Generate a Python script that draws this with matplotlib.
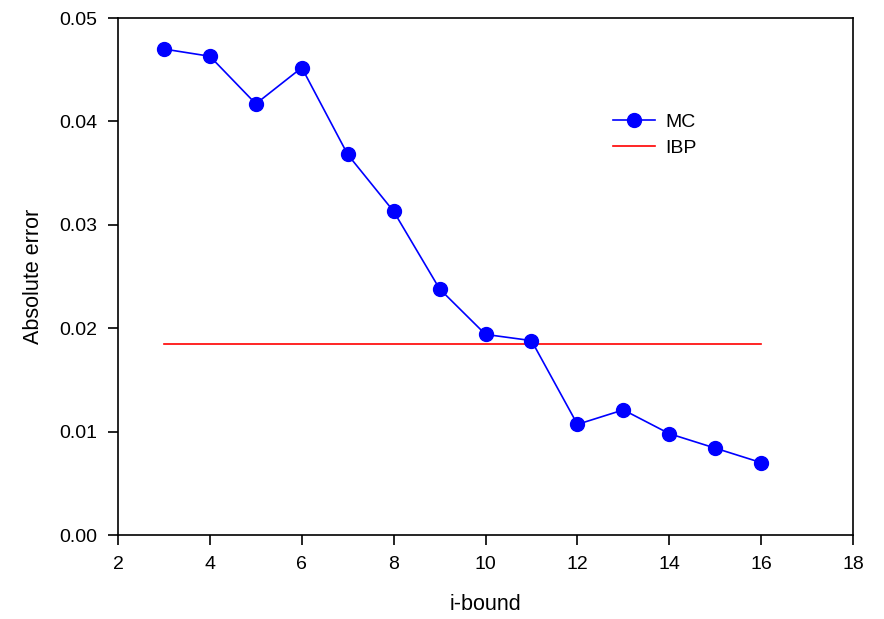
import matplotlib
matplotlib.use('Agg')
import matplotlib.pyplot as plt

plt.rcParams['font.family'] = ['Liberation Sans', 'DejaVu Sans']

# data
i_bound = [3, 4, 5, 6, 7, 8, 9, 10, 11, 12, 13, 14, 15, 16]
mc_error = [0.0470, 0.0463, 0.0417, 0.0452, 0.0368, 0.0313, 0.0238, 0.0194,
            0.0188, 0.0107, 0.0121, 0.0098, 0.0084, 0.0070]
ibp_x = [3, 16]
ibp_error = [0.0185, 0.0185]

fig = plt.figure(figsize=(8.84, 6.19), dpi=100)
ax = fig.add_axes([0.1335, 0.1357, 0.8315, 0.8352])

ax.plot(i_bound, mc_error, color='#0000ff', linewidth=1.2, marker='o',
        markersize=10, markerfacecolor='#0000ff', markeredgecolor='#0000ff',
        label='MC', zorder=3)
ax.plot(ibp_x, ibp_error, color='#ff0000', linewidth=1.2, label='IBP', zorder=2)

ax.set_xlim(2, 18)
ax.set_ylim(0, 0.05)
ax.set_xticks(range(2, 19, 2))
ax.set_yticks([0, 0.01, 0.02, 0.03, 0.04, 0.05])
ax.set_yticklabels(['0.00', '0.01', '0.02', '0.03', '0.04', '0.05'])
ax.tick_params(direction='out', length=7, width=1.2, labelsize=14, pad=8)
for s in ax.spines.values():
    s.set_linewidth(1.2)

ax.set_xlabel('i-bound', fontsize=15.5, labelpad=15)
ax.set_ylabel('Absolute error', fontsize=15.5, labelpad=11)

ax.legend(loc='upper left', bbox_to_anchor=(0.649, 0.85), frameon=False,
          fontsize=14, handlelength=2.2, handletextpad=0.5, labelspacing=0.45)

plt.savefig('out.png', dpi=100, facecolor='white')
plt.close()
